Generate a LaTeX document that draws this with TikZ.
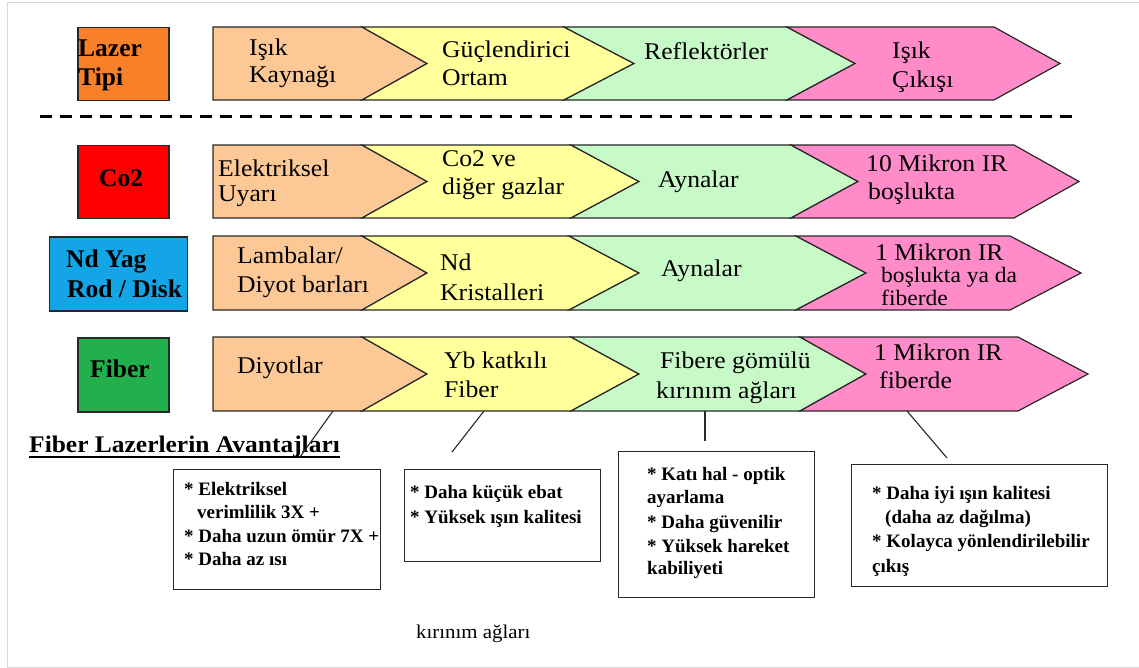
\documentclass[tikz,border=0pt]{standalone}
\usepackage{fontspec}
\setmainfont{Liberation Serif}[FakeStretch=1.07]
\newfontfamily\nfont{Liberation Serif}
\definecolor{cPeach}{RGB}{252,200,150}
\definecolor{cYel}{RGB}{255,255,155}
\definecolor{cGrn}{RGB}{200,250,200}
\definecolor{cPink}{RGB}{255,140,200}
\definecolor{cOrg}{RGB}{248,128,40}
\definecolor{cRed}{RGB}{255,0,0}
\definecolor{cBlue}{RGB}{20,165,230}
\definecolor{cGreen}{RGB}{34,176,76}
\definecolor{cLine}{RGB}{40,40,40}
\definecolor{cFrame}{RGB}{215,215,215}
\tikzset{
 segline/.style={draw=cLine, line width=1.2pt, line join=miter},
 lab/.style={draw=cLine, line width=1.5pt, inner sep=0pt, anchor=north west},
 txt/.style={anchor=base west, inner sep=0pt, font=\fontsize{24}{28}\selectfont},
 stxt/.style={anchor=base west, inner sep=0pt, font=\fontsize{22}{26}\selectfont},
 btxt/.style={anchor=base west, inner sep=0pt, font=\nfont\fontsize{25.5}{29}\selectfont\bfseries},
 ptxt/.style={anchor=base west, inner sep=0pt, font=\nfont\fontsize{19}{22}\selectfont\bfseries},
 abox/.style={draw=cLine, line width=1.2pt, anchor=north west, inner sep=0pt},
 leader/.style={draw=cLine, line width=1.1pt},
 dashline/.style={draw=black, line width=3pt, dash pattern=on 12pt off 8pt},
}
% #1 left corner x, #2 left notch x, #3 right corner x, #4 right tip x, #5 top, #6 mid, #7 bottom, #8 fill
\newcommand\seg[8]{\filldraw[segline, fill=#8] (#1,#5) -- (#3,#5) -- (#4,#6) -- (#3,#7) -- (#1,#7) -- (#2,#6) -- cycle;}
\newcommand\arrowrow[8]{%
 \seg{213}{213}{#4}{#5}{#1}{#2}{#3}{cPeach}
 \seg{#4}{#5}{#6}{#7}{#1}{#2}{#3}{cYel}
 \seg{#6}{#7}{#8}{\tipC}{#1}{#2}{#3}{cGrn}
 \seg{#8}{\tipC}{\cornD}{\tipD}{#1}{#2}{#3}{cPink}}
\begin{document}
\begin{tikzpicture}[x=1pt,y=-1pt]
\useasboundingbox (0,0) rectangle (1139,668);
\fill[white] (0,0) rectangle (1139,668);
\draw[cFrame, line width=1pt] (1139,3) -- (7,3) -- (7,667) -- (1139,667);

% rows of arrows
\def\tipC{855}\def\cornD{994}\def\tipD{1060}
\arrowrow{27}{63.5}{100}{362}{427}{564}{634}{787}
\def\tipC{858}\def\cornD{1014}\def\tipD{1079}
\arrowrow{145}{181.5}{218}{362}{427}{571}{639}{791}
\def\tipC{866}\def\cornD{1010}\def\tipD{1081}
\arrowrow{236}{273}{310}{362}{427}{569}{639}{796}
\def\tipC{866}\def\cornD{1018}\def\tipD{1088}
\arrowrow{337}{374}{411}{362}{427}{571}{639}{800}

% separator
\draw[dashline] (40,117) -- (1073,117);

% left labels
\node[lab, fill=cOrg, minimum width=91pt, minimum height=73pt] (lzbox) at (77,27) {};
\node[btxt] (lz1) at (78,57) {Lazer};
\node[btxt] (lz2) at (78,86) {Tipi};
\node[lab, fill=cRed, minimum width=91pt, minimum height=73pt] (cobox) at (77,145) {};
\node[btxt] (co) at (99,187) {Co2};
\node[lab, fill=cBlue, minimum width=138pt, minimum height=74pt] (ndbox) at (48.5,236) {};
\node[btxt] (nd1) at (66,267) {Nd Yag};
\node[btxt] (nd2) at (67,297) {Rod / Disk};
\node[lab, fill=cGreen, minimum width=91pt, minimum height=74pt] (fbbox) at (77,337) {};
\node[btxt] (fb) at (90,377) {Fiber};

% row 1 texts
\node[txt] (r1a1) at (249,56) {Işık};
\node[txt] (r1a2) at (249,83) {Kaynağı};
\node[txt] (r1b1) at (442,58) {Güçlendirici};
\node[txt] (r1b2) at (442,86) {Ortam};
\node[txt] (r1c) at (644,60) {Reflektörler};
\node[txt] (r1d1) at (892,59) {Işık};
\node[txt] (r1d2) at (892,88) {Çıkışı};

% row 2 texts
\node[txt] (r2a1) at (218,177) {Elektriksel};
\node[txt] (r2a2) at (218,202) {Uyarı};
\node[txt] (r2b1) at (442,167) {Co2 ve};
\node[txt] (r2b2) at (442,195) {diğer gazlar};
\node[txt] (r2c) at (658,188) {Aynalar};
\node[txt] (r2d1) at (866,172) {10 Mikron IR};
\node[txt] (r2d2) at (868,200) {boşlukta};

% row 3 texts
\node[txt] (r3a1) at (237,263) {Lambalar/};
\node[txt] (r3a2) at (237,292) {Diyot barları};
\node[txt] (r3b1) at (440,270) {Nd};
\node[txt] (r3b2) at (440,300) {Kristalleri};
\node[txt] (r3c) at (661,276) {Aynalar};
\node[txt] (r3d1) at (875,260) {1 Mikron IR};
\node[stxt] (r3d2) at (881,282) {boşlukta ya da};
\node[stxt] (r3d3) at (881,305) {fiberde};

% row 4 texts
\node[txt] (r4a) at (237,373) {Diyotlar};
\node[txt] (r4b1) at (444,368) {Yb katkılı};
\node[txt] (r4b2) at (444,397) {Fiber};
\node[txt] (r4c1) at (660,368) {Fibere gömülü};
\node[txt] (r4c2) at (656,398) {kırınım ağları};
\node[txt] (r4d1) at (874,360) {1 Mikron IR};
\node[txt] (r4d2) at (879,388) {fiberde};

% title
\node[anchor=base west, inner sep=0pt, font=\fontsize{23.8}{28}\selectfont\bfseries] (title) at (29,452) {Fiber Lazerlerin Avantajları};
\draw[black, line width=1.6pt] ([yshift=-5pt]title.base west) -- ([yshift=-5pt]title.base east);

% leaders
\coordinate (l1a) at (333,411); \coordinate (l1b) at (300,457);
\coordinate (l2a) at (484,411); \coordinate (l2b) at (452,452);
\coordinate (l3a) at (705,411); \coordinate (l3b) at (705,441);
\coordinate (l4a) at (907,411); \coordinate (l4b) at (947,458);
\draw[leader] (l1a) -- (l1b);
\draw[leader] (l2a) -- (l2b);
\draw[leader] (l3a) -- (l3b);
\draw[leader] (l4a) -- (l4b);

% boxes
\node[abox, minimum width=207pt, minimum height=120pt] (box1) at (173,469) {};
\node[ptxt] (b1a) at (184,495) {* Elektriksel};
\node[ptxt] (b1b) at (197,518) {verimlilik 3X +};
\node[ptxt] (b1c) at (184,542) {* Daha uzun ömür 7X +};
\node[ptxt] (b1d) at (184,565) {* Daha az ısı};

\node[abox, minimum width=196pt, minimum height=92pt] (box2) at (404,469) {};
\node[ptxt] (b2a) at (410,498) {* Daha küçük ebat};
\node[ptxt] (b2b) at (410,523) {* Yüksek ışın kalitesi};

\node[abox, minimum width=196pt, minimum height=146pt] (box3) at (618,451) {};
\node[ptxt] (b3a) at (647,480) {* Katı hal - optik};
\node[ptxt] (b3b) at (647,503) {ayarlama};
\node[ptxt] (b3c) at (647,528) {* Daha güvenilir};
\node[ptxt] (b3d) at (647,552) {* Yüksek hareket};
\node[ptxt] (b3e) at (647,574) {kabiliyeti};

\node[abox, minimum width=256pt, minimum height=122pt] (box4) at (851,464) {};
\node[ptxt] (b4a) at (872,499) {* Daha iyi ışın kalitesi};
\node[ptxt] (b4b) at (885,523) {(daha az dağılma)};
\node[ptxt] (b4c) at (872,547) {* Kolayca yönlendirilebilir};
\node[ptxt] (b4d) at (872,572) {çıkış};

% stray caption
\node[anchor=base west, inner sep=0pt, font=\fontsize{19.5}{23}\selectfont] (cap) at (416,638) {kırınım ağları};
\end{tikzpicture}
\end{document}
